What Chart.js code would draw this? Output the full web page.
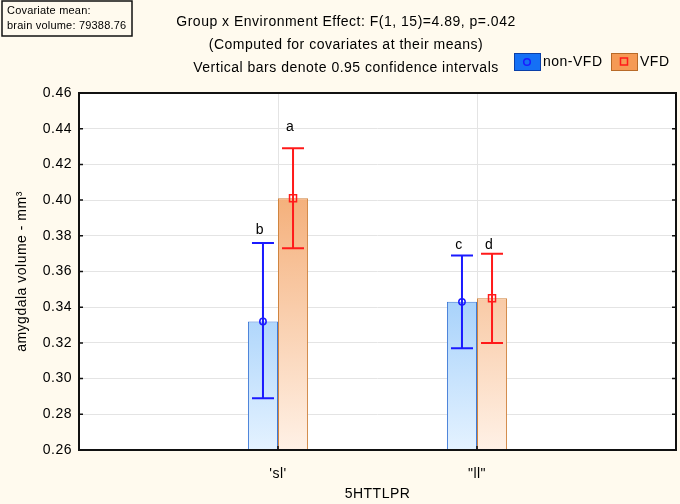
<!DOCTYPE html>
<html>
<head>
<meta charset="utf-8">
<script src="https://cdn.jsdelivr.net/npm/chart.js@4.4.1/dist/chart.umd.min.js"></script>
<style>
  html, body { margin: 0; padding: 0; background: #fffaee; }
  #wrap { width: 680px; height: 504px; position: relative; }
</style>
</head>
<body>
<div id="wrap"><canvas id="chart"></canvas></div>
<script>
// values
const categories = ["'sl'", '"ll"'];
const nonVfdMean = [0.332, 0.343];
const nonVfdLow = [0.289, 0.317];
const nonVfdHigh = [0.376, 0.369];
const vfdMean = [0.401, 0.345];
const vfdLow = [0.373, 0.320];
const vfdHigh = [0.429, 0.370];
const nonVfdLetters = ['b', 'c'];
const vfdLetters = ['a', 'd'];
// height (in axis units) at which each letter sits
const nonVfdLetterAt = [0.383, 0.375];
const vfdLetterAt = [0.441, 0.375];
const yTicks = [0.26, 0.28, 0.30, 0.32, 0.34, 0.36, 0.38, 0.40, 0.42, 0.44, 0.46];
const titleLines = [
    'Group x Environment Effect: F(1, 15)=4.89, p=.042',
    '(Computed for covariates at their means)',
    'Vertical bars denote 0.95 confidence intervals'
];
const covariateLines = ['Covariate mean:', 'brain volume: 79388.76'];

const FONT = '"Liberation Sans", Arial, sans-serif';

// blank slots on both sides so the two groups sit at 1/3 and 2/3 of the axis
const pad = arr => [null, ...arr, null];
const labels = ['', ...categories, ''];

function gradient(ctx, top, bottom) {
    const chart = ctx.chart;
    const area = chart.chartArea;
    if (!area) return top;
    const g = chart.ctx.createLinearGradient(0, area.top, 0, area.bottom);
    g.addColorStop(0, top);
    g.addColorStop(1, bottom);
    return g;
}

const errorBars = {
    id: 'errorBars',
    afterDatasetsDraw(chart) {
        const ctx = chart.ctx;
        const y = chart.scales.y;
        chart.data.datasets.forEach((ds, di) => {
            const meta = chart.getDatasetMeta(di);
            meta.data.forEach((bar, i) => {
                if (ds.data[i] == null) return;
                const x = bar.x;
                const yLo = y.getPixelForValue(ds.ciLow[i]);
                const yHi = y.getPixelForValue(ds.ciHigh[i]);
                const yM = y.getPixelForValue(ds.data[i]);
                ctx.save();
                ctx.strokeStyle = ds.ciColor;
                ctx.lineWidth = 2;
                ctx.beginPath();
                ctx.moveTo(x, yLo); ctx.lineTo(x, yHi);
                ctx.moveTo(x - 11, yLo); ctx.lineTo(x + 11, yLo);
                ctx.moveTo(x - 11, yHi); ctx.lineTo(x + 11, yHi);
                ctx.stroke();
                ctx.lineWidth = 1.5;
                ctx.beginPath();
                if (ds.marker === 'circle') {
                    ctx.arc(x, yM, 3.2, 0, Math.PI * 2);
                } else {
                    ctx.rect(x - 3.5, yM - 3.5, 7, 7);
                }
                ctx.stroke();
                ctx.fillStyle = '#000';
                ctx.font = '14px ' + FONT;
                ctx.textAlign = 'center';
                ctx.textBaseline = 'middle';
                ctx.fillText(ds.letters[i], x - 3, y.getPixelForValue(ds.letterAt[i]));
                ctx.restore();
            });
        });
    }
};

const frame = {
    id: 'frame',
    beforeDraw(chart) {
        const {ctx, chartArea: a} = chart;
        ctx.letterSpacing = '0.5px';
        ctx.save();
        ctx.fillStyle = '#fffaee';
        ctx.fillRect(0, 0, chart.width, chart.height);
        ctx.fillStyle = '#ffffff';
        ctx.fillRect(a.left, a.top, a.right - a.left, a.bottom - a.top);
        ctx.restore();
    },
    afterDraw(chart) {
        const {ctx, chartArea: a} = chart;
        const y = chart.scales.y;
        const x = chart.scales.x;
        ctx.save();
        // plot box
        ctx.strokeStyle = '#111';
        ctx.lineWidth = 2;
        ctx.strokeRect(a.left, a.top, a.right - a.left, a.bottom - a.top);
        // inward tick marks
        ctx.lineWidth = 1.5;
        ctx.beginPath();
        yTicks.forEach(v => {
            const py = y.getPixelForValue(v);
            ctx.moveTo(a.left, py); ctx.lineTo(a.left + 4, py);
            ctx.moveTo(a.right, py); ctx.lineTo(a.right - 4, py);
        });
        categories.forEach((c, i) => {
            const px = x.getPixelForValue(i + 1);
            ctx.moveTo(px, a.bottom); ctx.lineTo(px, a.bottom - 4);
        });
        ctx.stroke();

        // titles
        ctx.fillStyle = '#000';
        ctx.font = '14px ' + FONT;
        ctx.textAlign = 'center';
        ctx.textBaseline = 'middle';
        ctx.fillText(titleLines[0], 346, 22);
        ctx.fillText(titleLines[1], 346, 45);
        ctx.fillText(titleLines[2], 346, 68);

        // covariate box
        ctx.fillStyle = '#fffaee';
        ctx.fillRect(2, 1, 130, 35);
        ctx.strokeStyle = '#111';
        ctx.lineWidth = 1.5;
        ctx.strokeRect(2, 1, 130, 35);
        ctx.fillStyle = '#000';
        ctx.font = '11px ' + FONT;
        ctx.letterSpacing = '0.2px';
        ctx.textAlign = 'left';
        ctx.fillText(covariateLines[0], 7, 11);
        ctx.fillText(covariateLines[1], 7, 26);

        // legend
        ctx.letterSpacing = '0.5px';
        chart.data.datasets.forEach((ds, di) => {
            const bx = di === 0 ? 514 : 611;
            ctx.fillStyle = ds.legendFill;
            ctx.fillRect(bx, 53, 26, 17);
            ctx.strokeStyle = ds.legendBorder;
            ctx.lineWidth = 1;
            ctx.strokeRect(bx + 0.5, 53.5, 26, 17);
            ctx.strokeStyle = ds.ciColor;
            ctx.lineWidth = 1.5;
            ctx.beginPath();
            if (ds.marker === 'circle') ctx.arc(bx + 13, 62, 3.3, 0, Math.PI * 2);
            else ctx.rect(bx + 9.5, 58, 7, 7);
            ctx.stroke();
            ctx.fillStyle = '#000';
            ctx.font = '14px ' + FONT;
            ctx.textAlign = 'left';
            ctx.fillText(ds.label, bx + 29, 62);
        });
        ctx.restore();
    }
};

new Chart(document.getElementById('chart'), {
    type: 'bar',
    data: {
        labels: labels,
        datasets: [{
            label: 'non-VFD',
            data: pad(nonVfdMean),
            ciLow: pad(nonVfdLow),
            ciHigh: pad(nonVfdHigh),
            letters: pad(nonVfdLetters),
            letterAt: pad(nonVfdLetterAt),
            marker: 'circle',
            ciColor: '#1a1aff',
            legendFill: '#1570f5',
            legendBorder: '#0a3fa8',
            backgroundColor: ctx => gradient(ctx, '#55a6f5', '#e4f2ff'),
            borderColor: '#3f7ad6',
            borderWidth: 1,
            borderSkipped: 'bottom',
            categoryPercentage: 0.302,
            barPercentage: 1
        }, {
            label: 'VFD',
            data: pad(vfdMean),
            ciLow: pad(vfdLow),
            ciHigh: pad(vfdHigh),
            letters: pad(vfdLetters),
            letterAt: pad(vfdLetterAt),
            marker: 'square',
            ciColor: '#ff1a1a',
            legendFill: '#f59a55',
            legendBorder: '#b86a28',
            backgroundColor: ctx => gradient(ctx, '#f0954f', '#fff1e6'),
            borderColor: '#d0843f',
            borderWidth: 1,
            borderSkipped: 'bottom',
            categoryPercentage: 0.302,
            barPercentage: 1
        }]
    },
    options: {
        responsive: true,
        maintainAspectRatio: false,
        animation: false,
        layout: { padding: { top: 93, right: 4, left: 0, bottom: 0 } },
        plugins: {
            legend: { display: false },
            tooltip: { enabled: false }
        },
        scales: {
            x: {
                offset: false,
                grid: { offset: false, color: '#e4e4e4', drawTicks: false },
                border: { display: false },
                ticks: { color: '#000', padding: 16, font: { family: FONT, size: 14 } },
                title: { display: true, text: '5HTTLPR', color: '#000', padding: { bottom: 1 }, font: { family: FONT, size: 14 } },
                afterFit: s => { s.height = 54; s.paddingLeft = 0; s.paddingRight = 0; }
            },
            y: {
                min: 0.26,
                max: 0.46,
                afterBuildTicks: s => { s.ticks = yTicks.map(v => ({ value: v })); },
                grid: { color: '#e4e4e4', drawTicks: false },
                border: { display: false },
                ticks: { color: '#000', padding: 7, font: { family: FONT, size: 14 }, callback: v => v.toFixed(2) },
                title: { display: true, text: 'amygdala volume - mm³', color: '#000', padding: { top: 14 }, font: { family: FONT, size: 14 } },
                afterFit: s => { s.width = 79; s.paddingTop = 0; s.paddingBottom = 0; }
            }
        }
    },
    plugins: [frame, errorBars]
});
</script>
</body>
</html>
